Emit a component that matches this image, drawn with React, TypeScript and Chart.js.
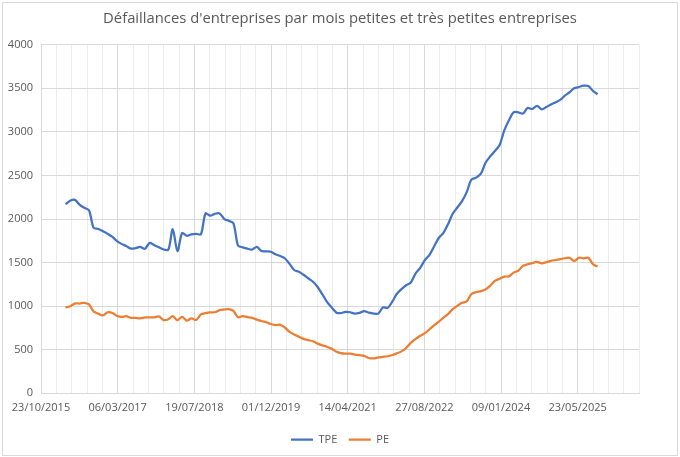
import React, { useEffect, useRef } from 'react';
import { Chart, registerables } from 'chart.js';

Chart.register(...registerables);

// monthly series, March 2016 -> September 2025 (end of month)
const FIRST_YEAR = 2016;
const FIRST_MONTH = 2; // March (0-based)

const tpe = [
  2170, 2210, 2220, 2165, 2130, 2100, 1900, 1885, 1860, 1830,
  1795, 1750, 1715, 1690, 1660, 1665, 1680, 1658, 1725, 1700,
  1675, 1650, 1650, 1883, 1632, 1838, 1808, 1825, 1830, 1825,
  2064, 2038, 2060, 2064, 2000, 1980, 1950, 1695, 1675, 1660,
  1650, 1680, 1632, 1630, 1625, 1595, 1575, 1550, 1485, 1415,
  1395, 1360, 1320, 1280, 1220, 1135, 1050, 985, 925, 920,
  935, 930, 915, 923, 942, 925, 915, 915, 985, 980,
  1055, 1140, 1195, 1240, 1272, 1372, 1440, 1530, 1590, 1690,
  1785, 1845, 1950, 2060, 2135, 2205, 2312, 2452, 2475, 2520,
  2645, 2720, 2780, 2850, 3020, 3130, 3225, 3225, 3210, 3274,
  3263, 3300, 3258, 3285, 3315, 3340, 3370, 3415, 3455, 3500,
  3515, 3530, 3526, 3470, 3432,
];

const pe = [
  985, 1000, 1030, 1030, 1038, 1020, 940, 914, 895, 930,
  922, 890, 876, 885, 866, 865, 860, 870, 872, 872,
  883, 840, 850, 885, 840, 876, 835, 860, 842, 905,
  920, 929, 930, 955, 962, 966, 945, 872, 887, 875,
  865, 845, 830, 815, 795, 783, 786, 755, 705, 675,
  650, 625, 610, 598, 570, 550, 535, 510, 476, 462,
  455, 455, 445, 438, 430, 405, 400, 412, 418, 425,
  440, 458, 481, 520, 580, 622, 660, 690, 735, 782,
  822, 870, 913, 965, 1005, 1038, 1056, 1140, 1162, 1173,
  1192, 1235, 1290, 1315, 1340, 1342, 1385, 1406, 1462, 1481,
  1495, 1508, 1492, 1505, 1520, 1530, 1540, 1550, 1556, 1519,
  1556, 1549, 1556, 1481, 1455,
];

// x axis origin (Excel date axis, major unit 500 days)
const AXIS_START = Date.UTC(2015, 9, 23);
const DAY = 86400000;
const AXIS_DAYS = 3900;

const monthEndDay = (i: number) =>
  (Date.UTC(FIRST_YEAR, FIRST_MONTH + i + 1, 0) - AXIS_START) / DAY;

const fmtDate = (days: number) => {
  const d = new Date(AXIS_START + days * DAY);
  const p = (n: number) => String(n).padStart(2, '0');
  return `${p(d.getUTCDate())}/${p(d.getUTCMonth() + 1)}/${d.getUTCFullYear()}`;
};

const FONT = "'Open Sans', 'Noto Sans', sans-serif";
const TEXT = '#595959';

export default function App() {
  const canvasRef = useRef<HTMLCanvasElement>(null);

  useEffect(() => {
    const ctx = canvasRef.current?.getContext('2d');
    if (!ctx) return;

    const chart = new Chart(ctx, {
      type: 'line',
      data: {
        datasets: [
          {
            label: 'TPE',
            data: tpe.map((v, i) => ({ x: monthEndDay(i), y: v })),
            borderColor: '#4472C4',
            backgroundColor: '#4472C4',
            borderWidth: 2.25,
            pointRadius: 0,
            tension: 0.3,
          },
          {
            label: 'PE',
            data: pe.map((v, i) => ({ x: monthEndDay(i), y: v })),
            borderColor: '#ED7D31',
            backgroundColor: '#ED7D31',
            borderWidth: 2.25,
            pointRadius: 0,
            tension: 0.3,
          },
        ],
      },
      options: {
        animation: false,
        responsive: false,
        devicePixelRatio: 1,
        layout: { padding: { left: 8, right: 8, top: 0, bottom: 2 } },
        plugins: {
          title: {
            display: true,
            text: "Défaillances d'entreprises par mois petites et très petites entreprises",
            color: TEXT,
            font: { family: FONT, size: 14.8, weight: 'normal' },
            padding: { top: 10, bottom: 17 },
          },
          legend: {
            position: 'bottom',
            labels: {
              color: TEXT,
              font: { family: FONT, size: 11 },
              usePointStyle: true,
              pointStyle: 'line',
              pointStyleWidth: 22,
              boxWidth: 22,
              padding: 11.5,
            },
          },
          tooltip: { enabled: false },
        },
        scales: {
          x: {
            type: 'linear',
            min: 0,
            max: AXIS_DAYS,
            ticks: {
              stepSize: 100,
              autoSkip: false,
              maxRotation: 0,
              padding: 8,
              color: TEXT,
              font: { family: FONT, size: 11 },
              callback: (v) => (Number(v) % 500 === 0 ? fmtDate(Number(v)) : ''),
            },
            grid: {
              drawTicks: false,
              color: (c) => (c.tick && c.tick.value % 500 === 0 ? '#d9d9d9' : '#ececec'),
            },
            border: { color: '#d9d9d9' },
          },
          y: {
            min: 0,
            max: 4000,
            ticks: {
              stepSize: 500,
              padding: 8,
              color: TEXT,
              font: { family: FONT, size: 11 },
              callback: (v) => String(v),
            },
            grid: { drawTicks: false, color: '#d9d9d9' },
            border: { display: false },
            afterFit: (axis) => {
              axis.width = 33;
            },
          },
          // empty right-hand spacer so the plot sits where Excel puts it
          spacer: {
            type: 'linear',
            position: 'right',
            ticks: { display: false },
            grid: { display: false },
            border: { display: false },
            afterFit: (axis) => {
              axis.width = 33;
            },
          },
        },
      },
    });

    return () => chart.destroy();
  }, []);

  return (
    <div style={{ position: 'fixed', left: 0, top: 0, width: 680, height: 457, background: '#fff' }}>
      <canvas ref={canvasRef} width={680} height={457} style={{ display: 'block' }} />
      <div
        style={{
          position: 'absolute',
          left: 2,
          top: 2,
          width: 674,
          height: 452,
          border: '1px solid #d9d9d9',
          pointerEvents: 'none',
        }}
      />
    </div>
  );
}
